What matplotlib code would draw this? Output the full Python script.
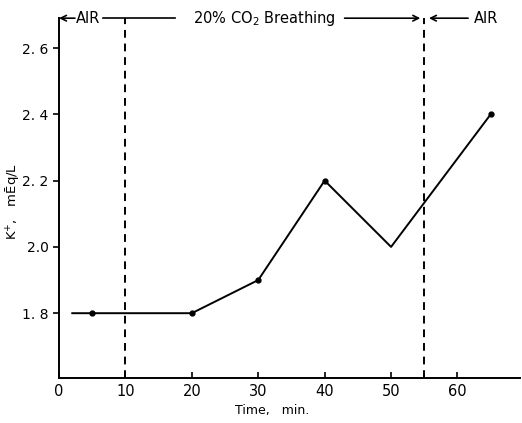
import matplotlib.pyplot as plt

# potassium during CO2 breathing
time_min = [2, 5, 20, 30, 40, 50, 65]
k_meq = [1.8, 1.8, 1.8, 1.9, 2.2, 2.0, 2.4]
marked = [False, True, True, True, True, False, True]

x_ticks = [0, 10, 20, 30, 40, 50, 60]
y_ticks = [1.8, 2.0, 2.2, 2.4, 2.6]
y_tick_labels = ['1. 8', '2.0', '2. 2', '2. 4', '2. 6']
phase_edges = [10, 55]

plt.rcParams['font.family'] = ['DejaVu Sans']

fig = plt.figure(figsize=(5.22, 4.23), dpi=100)
ax = fig.add_axes([0.113, 0.106, 0.883, 0.851])

ax.plot(time_min, k_meq, color='black', lw=1.4)
mx = [t for t, m in zip(time_min, marked) if m]
my = [k for k, m in zip(k_meq, marked) if m]
ax.plot(mx, my, 'o', color='black', ms=3.5)

for edge in phase_edges:
    ax.axvline(edge, color='black', lw=1.4, ls=(0, (4, 3)))

ax.set_xlim(0, 69.4)
ax.set_ylim(1.604, 2.69)
ax.spines['top'].set_visible(False)
ax.spines['right'].set_visible(False)
ax.spines['left'].set_linewidth(1.4)
ax.spines['bottom'].set_linewidth(1.4)

ax.set_xticks(x_ticks)
ax.set_yticks(y_ticks)
ax.set_yticklabels(y_tick_labels)
ax.tick_params(axis='x', direction='in', length=4, width=1.2, labelsize=10.5, pad=4)
ax.tick_params(axis='y', direction='out', length=4, width=1.2, labelsize=10)

ax.set_xlabel('Time,   min.', fontsize=9)
ax.set_ylabel('K$^{+}$,   mĒq/L', fontsize=9.5)
ax.xaxis.set_label_coords(0.462, -0.072)
ax.yaxis.set_label_coords(-0.083, 0.49)

# phase annotations along the top
top = 2.69
arrow = dict(arrowstyle='->', color='black', lw=1.2, shrinkA=0, shrinkB=0)
ax.annotate('', xy=(0, top), xytext=(2.4, top), arrowprops=arrow, annotation_clip=False)
ax.text(4.4, top, 'AIR', ha='center', va='center', fontsize=10.5)
ax.plot([6.7, 17.5], [top, top], color='black', lw=1.2, clip_on=False)
ax.text(31.0, top, '20% CO$_2$ Breathing', ha='center', va='center', fontsize=10.5)
ax.annotate('', xy=(54.4, top), xytext=(43.0, top), arrowprops=arrow, annotation_clip=False)
ax.annotate('', xy=(55.7, top), xytext=(61.6, top), arrowprops=arrow, annotation_clip=False)
ax.text(64.3, top, 'AIR', ha='center', va='center', fontsize=10.5)

fig.savefig('out.png', dpi=100)
